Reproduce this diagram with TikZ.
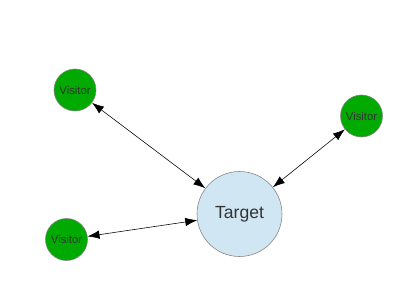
\documentclass[tikz,border=0pt]{standalone}
\usepackage{fontspec}
\setmainfont{Liberation Sans}
\usetikzlibrary{arrows.meta}
\definecolor{visitorgreen}{RGB}{0,170,0}
\definecolor{targetblue}{RGB}{208,230,243}
\definecolor{rimgray}{RGB}{130,130,130}
\definecolor{labelgray}{RGB}{51,51,51}

\begin{document}
\begin{tikzpicture}[x=0.025cm,y=-0.025cm,
    visitor/.style={circle,draw=rimgray,fill=visitorgreen,minimum size=42*0.025cm,
      inner sep=0pt,text=labelgray,font=\fontsize{8}{9}\selectfont},
    target/.style={circle,draw=rimgray,fill=targetblue,minimum size=85*0.025cm,
      inner sep=0pt,text=labelgray,font=\fontsize{12.5}{14}\selectfont},
    link/.style={{Latex[length=8.5pt,width=6pt]}-{Latex[length=8.5pt,width=6pt]},black,thin}]
  \useasboundingbox (0,0) rectangle (400,308);
  % nodes
  \node[target]  (tgt) at (239.5,214) {Target};
  \node[visitor] (vis1) at (75,90) {Visitor};
  \node[visitor] (vis2) at (361.5,116) {Visitor};
  \node[visitor] (vis3) at (66.5,239.5) {Visitor};
  % links
  \draw[link] (vis1) -- (tgt);
  \draw[link] (vis2) -- (tgt);
  \draw[link] (vis3) -- (tgt);
\end{tikzpicture}
\end{document}
